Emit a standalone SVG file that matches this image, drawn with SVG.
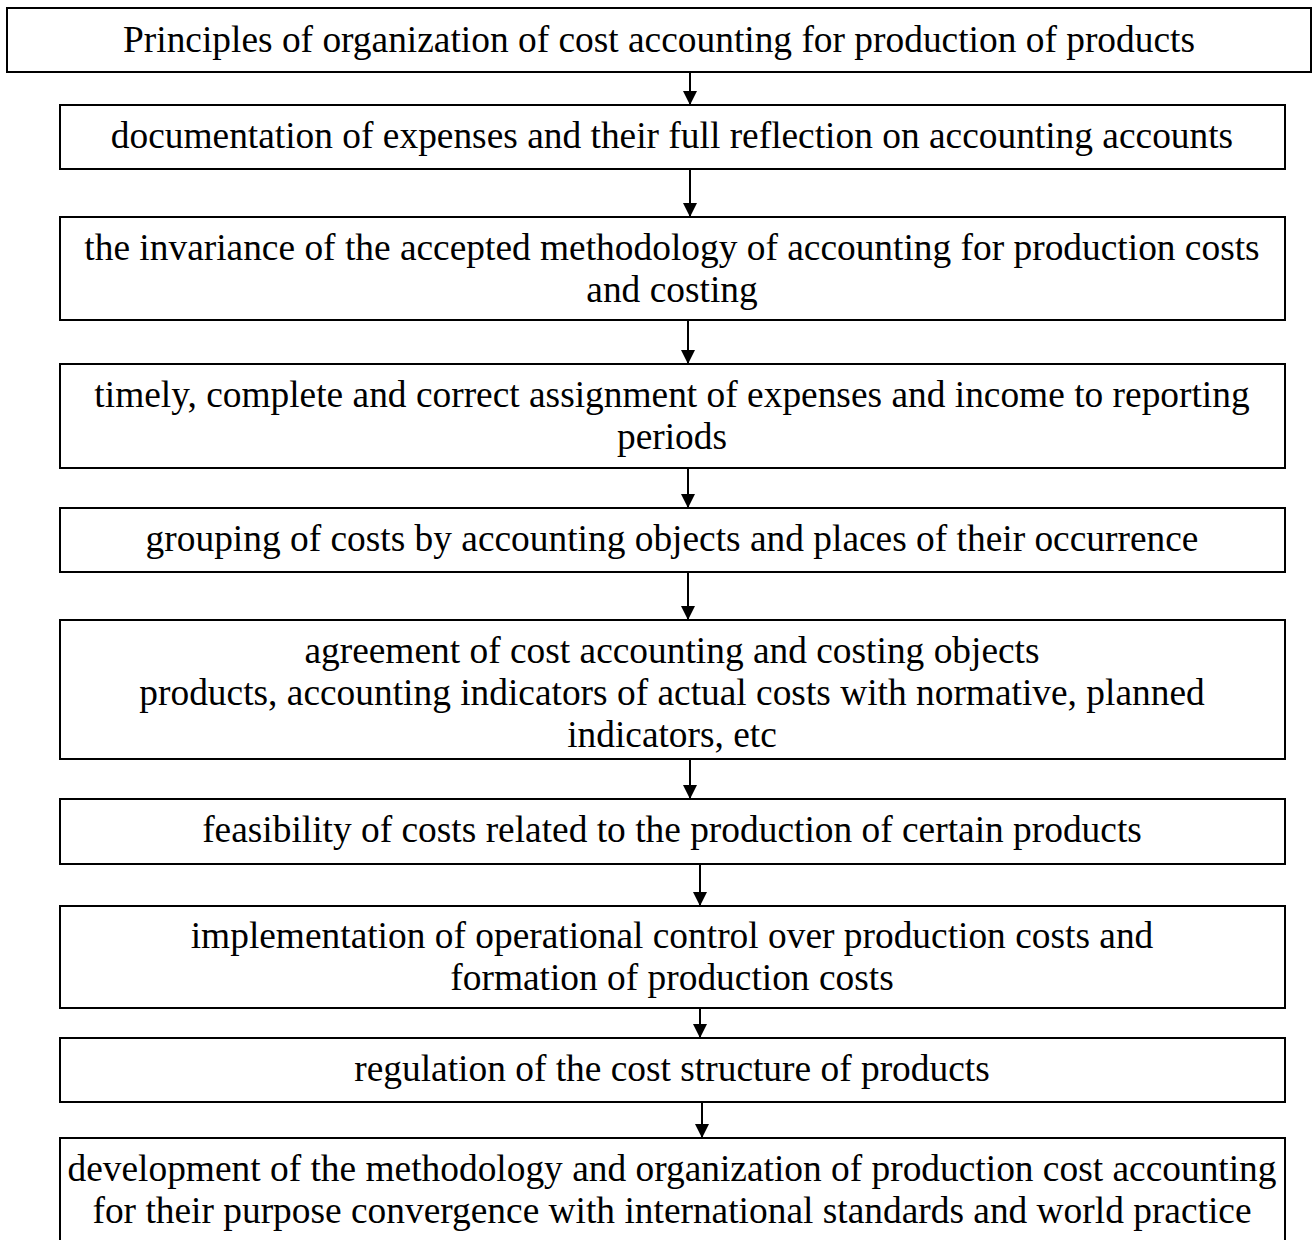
<svg xmlns="http://www.w3.org/2000/svg" width="1312" height="1240" viewBox="0 0 1312 1240">
<style>
.box{fill:#fff;stroke:#000;stroke-width:2}
.t{font-family:"Liberation Serif","Times New Roman",serif;font-size:37.4px;fill:#000;text-anchor:middle}
.c{stroke:#000;stroke-width:2;fill:none}
</style>
<defs>
<marker id="ah" viewBox="0 0 14 14" refX="14" refY="7" markerWidth="14" markerHeight="14" markerUnits="userSpaceOnUse" orient="auto">
<path d="M0,0 L14,7 L0,14 Z" fill="#000"/>
</marker>
</defs>
<rect width="1312" height="1240" fill="#fff"/>
<g id="connectors">
<line class="c" x1="690" y1="72" x2="690" y2="105" marker-end="url(#ah)"/>
<line class="c" x1="690" y1="169" x2="690" y2="217" marker-end="url(#ah)"/>
<line class="c" x1="688" y1="320" x2="688" y2="364" marker-end="url(#ah)"/>
<line class="c" x1="688" y1="468" x2="688" y2="508" marker-end="url(#ah)"/>
<line class="c" x1="688" y1="572" x2="688" y2="620" marker-end="url(#ah)"/>
<line class="c" x1="690" y1="759" x2="690" y2="799" marker-end="url(#ah)"/>
<line class="c" x1="700" y1="864" x2="700" y2="906" marker-end="url(#ah)"/>
<line class="c" x1="700" y1="1008" x2="700" y2="1038" marker-end="url(#ah)"/>
<line class="c" x1="702" y1="1102" x2="702" y2="1138" marker-end="url(#ah)"/>
</g>
<g id="n0"><rect class="box" x="7" y="8" width="1304" height="64"/><text class="t" x="659" y="52">Principles of organization of cost accounting for production of products</text></g>
<g id="n1"><rect class="box" x="60" y="105" width="1225" height="64"/><text class="t" x="672" y="148">documentation of expenses and their full reflection on accounting accounts</text></g>
<g id="n2"><rect class="box" x="60" y="217" width="1225" height="103"/><text class="t" x="672" y="260">the invariance of the accepted methodology of accounting for production costs</text><text class="t" x="672" y="302">and costing</text></g>
<g id="n3"><rect class="box" x="60" y="364" width="1225" height="104"/><text class="t" x="672" y="407">timely, complete and correct assignment of expenses and income to reporting</text><text class="t" x="672" y="449">periods</text></g>
<g id="n4"><rect class="box" x="60" y="508" width="1225" height="64"/><text class="t" x="672" y="551">grouping of costs by accounting objects and places of their occurrence</text></g>
<g id="n5"><rect class="box" x="60" y="620" width="1225" height="139"/><text class="t" x="672" y="663">agreement of cost accounting and costing objects</text><text class="t" x="672" y="705">products, accounting indicators of actual costs with normative, planned</text><text class="t" x="672" y="747">indicators, etc</text></g>
<g id="n6"><rect class="box" x="60" y="799" width="1225" height="65"/><text class="t" x="672" y="842">feasibility of costs related to the production of certain products</text></g>
<g id="n7"><rect class="box" x="60" y="906" width="1225" height="102"/><text class="t" x="672" y="948">implementation of operational control over production costs and</text><text class="t" x="672" y="990">formation of production costs</text></g>
<g id="n8"><rect class="box" x="60" y="1038" width="1225" height="64"/><text class="t" x="672" y="1081">regulation of the cost structure of products</text></g>
<g id="n9"><rect class="box" x="60" y="1138" width="1225" height="110"/><text class="t" x="672" y="1181">development of the methodology and organization of production cost accounting</text><text class="t" x="672" y="1223">for their purpose convergence with international standards and world practice</text></g>
</svg>
